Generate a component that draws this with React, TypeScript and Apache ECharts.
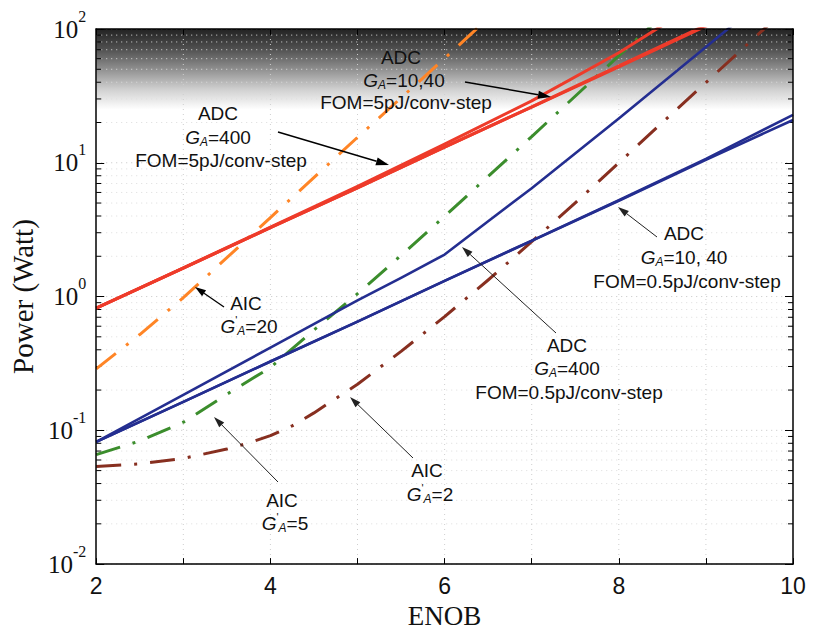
import React, { useEffect, useRef } from 'react';
import * as echarts from 'echarts';

// ---------- data ----------
const enobInt = [2, 3, 4, 5, 6, 7, 8, 9, 10];
// ADC, FOM = 5 pJ/conv-step
const adc5Ga10 = [0.82, 1.63, 3.27, 6.5, 13.1, 26.1, 52, 105, 209];
const adc5Ga40 = [0.82, 1.63, 3.27, 6.5, 13.1, 26.2, 53, 107, 215];
const adc5Ga400 = [0.82, 1.64, 3.3, 6.65, 13.8, 29.0, 66.5, 170, 447];
// ADC, FOM = 0.5 pJ/conv-step
const adc05Ga10 = [0.082, 0.163, 0.327, 0.65, 1.31, 2.61, 5.2, 10.5, 20.9];
const adc05Ga40 = [0.082, 0.163, 0.327, 0.65, 1.31, 2.62, 5.25, 10.7, 22.8];
const enobAdc05Ga400 = [2, 3, 4, 5, 5.5, 6, 6.5, 7, 8, 9, 10];
const adc05Ga400 = [0.082, 0.184, 0.415, 0.935, 1.38, 2.06, 3.65, 6.46, 21.4, 73.3, 251];
// AIC
const enobAic20 = [2, 2.5, 3, 4, 5, 6, 7];
const aicGa20 = [0.288, 0.52, 0.98, 3.89, 15.5, 60.3, 240];
const enobAic5 = [2, 2.5, 3, 3.5, 4, 4.5, 5, 5.5, 6, 7, 8, 9];
const aicGa5 = [0.0658, 0.0832, 0.115, 0.186, 0.295, 0.562, 1.05, 2.03, 3.98, 15.7, 63.1, 251];
const enobAic2 = [2, 2.5, 3, 3.5, 3.75, 4, 4.25, 4.5, 5, 5.5, 6, 6.5, 7, 7.5, 8, 8.5, 9, 9.5, 10];
const aicGa2 = [0.0537, 0.0562, 0.0617, 0.0724, 0.0804, 0.0912, 0.108, 0.135, 0.221, 0.389, 0.708, 1.33, 2.57, 5.01, 10.0, 20.0, 39.8, 79.4, 158];

// axis ticks / grid
const xTicksInner = [3, 4, 5, 6, 7, 8, 9];
const yMajor = [0.01, 0.1, 1, 10, 100];
const yMinor = [
  0.02, 0.03, 0.04, 0.05, 0.06, 0.07, 0.08, 0.09,
  0.2, 0.3, 0.4, 0.5, 0.6, 0.7, 0.8, 0.9,
  2, 3, 4, 5, 6, 7, 8, 9,
  20, 30, 40, 50, 60, 70, 80, 90,
];
const shadeRange = [25, 100];

const RED = '#ee3b2a';
const BLUE = '#242e90';
const ORANGE = '#ff8526';
const GREEN = '#3b8d2c';
const BROWN = '#872f20';

const SERIF = "'Liberation Serif', 'Times New Roman', serif";
const SANS = "'Liberation Sans', Arial, sans-serif";

const pairs = (xs: number[], ys: number[]) => xs.map((x, i) => [x, ys[i]]);

const DASHDOT = [25, 13, 3, 13];

function arrow(x1: number, y1: number, x2: number, y2: number, color: string, lw: number, hl: number, hw: number) {
  const dx = x2 - x1;
  const dy = y2 - y1;
  const L = Math.sqrt(dx * dx + dy * dy);
  const ux = dx / L;
  const uy = dy / L;
  const bx = x2 - ux * hl;
  const by = y2 - uy * hl;
  const px = -uy;
  const py = ux;
  return [
    { type: 'line', silent: true, z: 50, shape: { x1, y1, x2: bx, y2: by }, style: { stroke: color, lineWidth: lw } },
    {
      type: 'polygon', silent: true, z: 50,
      shape: { points: [[x2, y2], [bx + px * hw / 2, by + py * hw / 2], [bx - px * hw / 2, by - py * hw / 2]] },
      style: { fill: color },
    },
  ];
}

const FS = 19;
const richG = {
  n: { fontFamily: SANS, fontSize: FS, fill: '#111' },
  i: { fontFamily: SANS, fontSize: FS, fontStyle: 'italic', fill: '#111' },
  sub: { fontFamily: SANS, fontSize: 12, fontStyle: 'italic', fill: '#111', padding: [9, 0, 0, 0] },
  pr: { fontFamily: SANS, fontSize: 11, fill: '#111', padding: [0, 0, 12, 0] },
};

function txt(x: number, y: number, text: string) {
  return {
    type: 'text', silent: true, z: 50, x, y,
    style: { text, rich: richG, fontFamily: SANS, fontSize: FS, fill: '#111', align: 'center', verticalAlign: 'middle' },
  };
}

export default function App() {
  const ref = useRef<HTMLDivElement>(null);

  useEffect(() => {
    if (!ref.current) return;
    const chart = echarts.init(ref.current, undefined, { renderer: 'svg' });

    const lineSeries = (name: string, data: number[][], color: string, width: number, dash?: number[]) => ({
      name,
      type: 'line',
      data,
      symbol: 'none',
      showSymbol: false,
      clip: true,
      z: 3,
      smooth: false,
      lineStyle: { color, width, type: dash ? dash : 'solid', cap: 'butt', join: 'round' },
    });

    const graphics: any[] = [
      // ADC G_A=400, FOM=5
      txt(218, 113, '{n|ADC}'),
      txt(218, 137, '{i|G}{sub|A}{n|=400}'),
      txt(221, 160, '{n|FOM=5pJ/conv-step}'),
      ...arrow(278, 132, 389, 165, '#000', 1.5, 13, 8),
      // ADC G_A=10,40, FOM=5
      txt(401, 57, '{n|ADC}'),
      txt(404, 80, '{i|G}{sub|A}{n|=10,40}'),
      txt(406, 102, '{n|FOM=5pJ/conv-step}'),
      ...arrow(465, 82, 551, 97, '#000', 1.5, 13, 8),
      // ADC G_A=10,40, FOM=0.5
      txt(684, 233, '{n|ADC}'),
      txt(684, 257, '{i|G}{sub|A}{n|=10, 40}'),
      txt(687, 281, '{n|FOM=0.5pJ/conv-step}'),
      ...arrow(657, 237, 618, 207, '#222', 1, 11, 7),
      // ADC G_A=400, FOM=0.5
      txt(567, 345, '{n|ADC}'),
      txt(567, 368, '{i|G}{sub|A}{n|=400}'),
      txt(569, 392, '{n|FOM=0.5pJ/conv-step}'),
      ...arrow(556, 333, 462, 247, '#222', 1, 11, 7),
      // AIC 20
      txt(246, 303, '{n|AIC}'),
      txt(249, 326, "{i|G}{pr|'}{sub|A}{n|=20}"),
      ...arrow(224, 307, 195, 287, '#000', 1.3, 11, 7),
      // AIC 5
      txt(282, 500, '{n|AIC}'),
      txt(285, 523, "{i|G}{pr|'}{sub|A}{n|=5}"),
      ...arrow(278, 482, 214, 417, '#222', 1, 11, 7),
      // AIC 2
      txt(427, 470, '{n|AIC}'),
      txt(430, 494, "{i|G}{pr|'}{sub|A}{n|=2}"),
      ...arrow(413, 458, 350, 397, '#222', 1, 11, 7),
    ];

    const option: any = {
      animation: false,
      backgroundColor: '#ffffff',
      grid: { left: 90, top: 29, right: 20, bottom: 57, containLabel: false },
      xAxis: [
        {
          type: 'value', min: 2, max: 10, interval: 1, position: 'bottom', z: 10,
          name: 'ENOB', nameLocation: 'middle', nameGap: 29,
          nameTextStyle: { fontFamily: SERIF, fontSize: 27, color: '#111' },
          axisLine: { show: true, onZero: false, lineStyle: { color: '#000', width: 1.5 } },
          axisTick: { show: true, inside: true, length: 6, lineStyle: { color: '#000', width: 1 } },
          axisLabel: {
            margin: 10, fontFamily: SANS, fontSize: 23, color: '#111',
            formatter: (v: number) => (v % 2 === 0 ? String(v) : ''),
          },
          splitLine: { show: false },
        },
        {
          type: 'value', min: 2, max: 10, interval: 1, position: 'top', z: 10,
          axisLine: { show: true, onZero: false, lineStyle: { color: '#000', width: 1.5 } },
          axisTick: { show: true, inside: true, length: 6, lineStyle: { color: '#000', width: 1 } },
          axisLabel: { show: false },
          splitLine: { show: false },
        },
      ],
      yAxis: [
        {
          type: 'log', logBase: 10, min: 0.01, max: 100, position: 'left', z: 10,
          name: 'Power (Watt)', nameLocation: 'middle', nameGap: 48,
          nameTextStyle: { fontFamily: SERIF, fontSize: 29, color: '#111' },
          axisLine: { show: true, onZero: false, lineStyle: { color: '#000', width: 1.5 } },
          axisTick: { show: true, inside: true, length: 8, lineStyle: { color: '#000', width: 1 } },
          axisLabel: {
            margin: 10,
            formatter: (v: number) => `{b|10}{s|${Math.round(Math.log10(v))}}`,
            rich: {
              b: { fontFamily: SERIF, fontSize: 25, color: '#111' },
              s: { fontFamily: SERIF, fontSize: 16, color: '#111', padding: [0, 0, 26, 0] },
            },
          },
          splitLine: { show: false },
        },
        {
          type: 'log', logBase: 10, min: 0.01, max: 100, position: 'right', z: 10,
          axisLine: { show: true, onZero: false, lineStyle: { color: '#000', width: 1.5 } },
          axisTick: { show: true, inside: true, length: 8, lineStyle: { color: '#000', width: 1 } },
          axisLabel: { show: false },
          splitLine: { show: false },
        },
      ],
      series: [
        {
          type: 'custom', z: 0, silent: true, clip: true,
          data: [[2, shadeRange[1]]],
          renderItem: (_p: any, api: any) => {
            const tl = api.coord([2, shadeRange[1]]);
            const br = api.coord([10, shadeRange[0]]);
            return {
              type: 'rect',
              shape: { x: tl[0], y: tl[1], width: br[0] - tl[0], height: br[1] - tl[1] },
              style: {
                fill: new echarts.graphic.LinearGradient(0, 0, 0, 1, [
                  { offset: 0, color: '#222222' },
                  { offset: 0.25, color: '#505050' },
                  { offset: 0.5, color: '#909090' },
                  { offset: 0.75, color: '#d0d0d0' },
                  { offset: 1, color: '#ffffff' },
                ]),
              },
            };
          },
        },
        {
          type: 'custom', z: 1, silent: true,
          data: [...yMajor.map((v) => [2, v, 1]), ...yMinor.map((v) => [2, v, 0])],
          renderItem: (_p: any, api: any) => {
            const v = api.value(1);
            const major = api.value(2) === 1;
            const a = api.coord([2, v]);
            const b = api.coord([10, v]);
            const children: any[] = [
              {
                type: 'line',
                shape: { x1: a[0], y1: a[1], x2: b[0], y2: b[1] },
                style: { stroke: major ? '#c4c4c4' : '#dcdcdc', lineWidth: 1, lineDash: [1, 4] },
              },
            ];
            if (!major) {
              children.push(
                { type: 'line', shape: { x1: a[0], y1: a[1], x2: a[0] + 5, y2: a[1] }, style: { stroke: '#000', lineWidth: 1 } },
                { type: 'line', shape: { x1: b[0], y1: b[1], x2: b[0] - 5, y2: b[1] }, style: { stroke: '#000', lineWidth: 1 } },
              );
            }
            return { type: 'group', children };
          },
        },
        {
          type: 'custom', z: 1, silent: true,
          data: xTicksInner.map((x) => [x, 1]),
          renderItem: (_p: any, api: any) => {
            const x = api.value(0);
            const a = api.coord([x, 100]);
            const b = api.coord([x, 0.01]);
            return {
              type: 'line',
              shape: { x1: a[0], y1: a[1], x2: b[0], y2: b[1] },
              style: { stroke: '#cfcfcf', lineWidth: 1, lineDash: [1, 4] },
            };
          },
        },
        lineSeries('AIC G\'A=2', pairs(enobAic2, aicGa2), BROWN, 3, DASHDOT),
        lineSeries('AIC G\'A=5', pairs(enobAic5, aicGa5), GREEN, 3, DASHDOT),
        lineSeries('AIC G\'A=20', pairs(enobAic20, aicGa20), ORANGE, 3, DASHDOT),
        lineSeries('ADC GA=10 FOM=0.5', pairs(enobInt, adc05Ga10), BLUE, 2.6),
        lineSeries('ADC GA=40 FOM=0.5', pairs(enobInt, adc05Ga40), BLUE, 2.6),
        lineSeries('ADC GA=400 FOM=0.5', pairs(enobAdc05Ga400, adc05Ga400), BLUE, 2.6),
        lineSeries('ADC GA=10 FOM=5', pairs(enobInt, adc5Ga10), RED, 3),
        lineSeries('ADC GA=40 FOM=5', pairs(enobInt, adc5Ga40), RED, 3),
        lineSeries('ADC GA=400 FOM=5', pairs(enobInt, adc5Ga400), RED, 3),
      ],
      graphic: graphics,
    };

    chart.setOption(option);
    return () => chart.dispose();
  }, []);

  return (
    <div
      ref={ref}
      style={{ position: 'absolute', left: 0, top: 0, width: 813, height: 634, background: '#fff' }}
    />
  );
}
